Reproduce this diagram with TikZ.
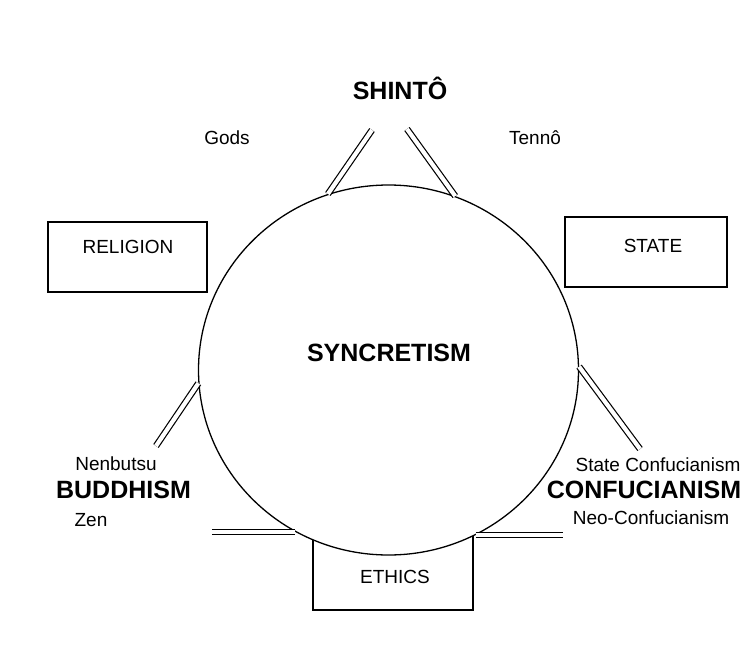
\documentclass[tikz,border=0pt]{standalone}
\usepackage{fontspec}
\setmainfont{Liberation Sans}
\usetikzlibrary{shapes.geometric}
\begin{document}
\begin{tikzpicture}[x=1pt,y=-1pt,
  box/.style={draw=black,line width=1.2pt,fill=white,inner sep=0pt},
  lab/.style={font=\fontsize{19}{22}\selectfont,inner sep=0pt},
  big/.style={font=\fontsize{25}{29}\selectfont\bfseries,inner sep=0pt},
  dbl/.style={draw=black,line width=1.2pt,double=white,double distance=4.2pt},
  circ/.style={ellipse,draw=black,line width=1.3pt,fill=white,minimum width=380pt,minimum height=370pt,inner sep=0pt}]
\useasboundingbox (0,0) rectangle (747,672);
% boxes
\node[box,minimum width=159pt,minimum height=70pt] (relbox) at (127.5,257) {};
\node[box,minimum width=162pt,minimum height=70pt] (statebox) at (646,252) {};
\node[box,minimum width=160pt,minimum height=85pt] (ethbox) at (393,567.5) {};
% central circle
\node[circ] (syn) at (388.5,370) {};
\node[big] (syntext) at (389,353) {SYNCRETISM};
% free ends of connectors
\coordinate (tl) at (372,130);
\coordinate (tr) at (407,129);
\coordinate (le) at (156,446);
\coordinate (ri) at (640,449);
\coordinate (bl) at (212,531);
\coordinate (br) at (563,534);
% connectors
\draw[dbl] (syn.109) -- (tl);
\draw[dbl] (syn.69) -- (tr);
\draw[dbl] (syn.184) -- (le);
\draw[dbl] (syn.1) -- (ri);
\draw[dbl] (syn.240) -- (syn.240 -| bl);
\draw[dbl] (syn.298) -- (syn.298 -| br);
% labels
\node[big] (shinto) at (400,88) {SHINTÔ};
\node[lab] (gods) at (227,138) {Gods};
\node[lab] (tenno) at (535,138) {Tennô};
\node[lab] (rel) at (128,247) {RELIGION};
\node[lab] (state) at (653,246) {STATE};
\node[lab] (eth) at (395,577) {ETHICS};
\node[lab] (nenb) at (116,464) {Nenbutsu};
\node[big] (budd) at (123.5,490) {BUDDHISM};
\node[lab] (zen) at (91,520) {Zen};
\node[lab] (stc) at (658,465) {State Confucianism};
\node[big] (conf) at (644,490) {CONFUCIANISM};
\node[lab] (neo) at (651,518) {Neo-Confucianism};
\end{tikzpicture}
\end{document}
